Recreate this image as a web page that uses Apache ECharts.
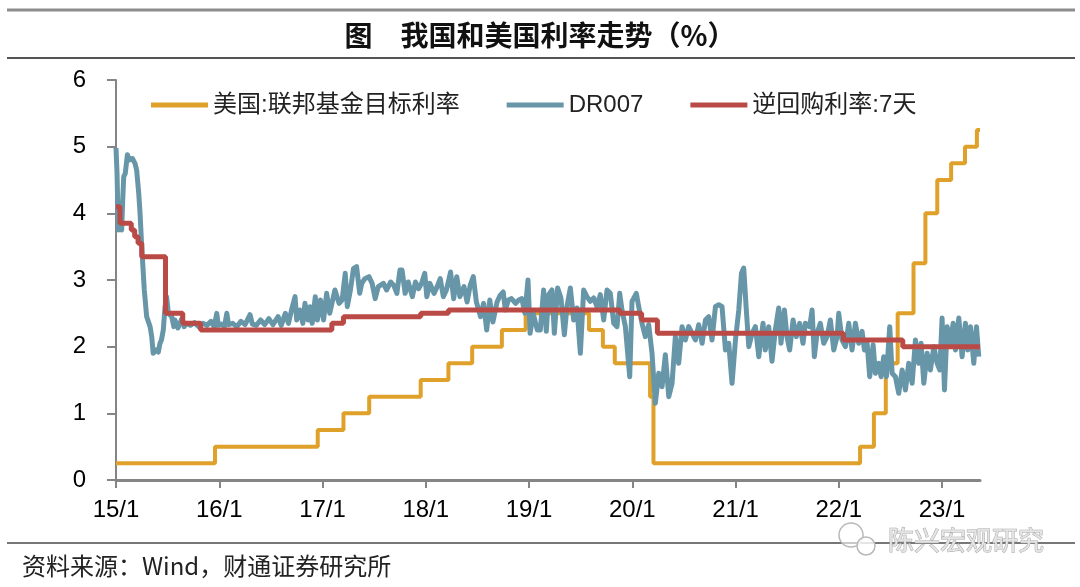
<!DOCTYPE html>
<html>
<head>
<meta charset="utf-8">
<script src="https://cdn.jsdelivr.net/npm/echarts@6/dist/echarts.min.js"></script>
<style>
html,body{margin:0;padding:0;background:#fff;}
#chart{width:1080px;height:587px;}
</style>
</head>
<body>
<div id="chart"></div>
<script>
// ---------- DATA ----------
const titleText = '图　我国和美国利率走势（%）';
const sourceText = '资料来源：Wind，财通证券研究所';
const watermarkText = '陈兴宏观研究';
const seriesNames = ['美国:联邦基金目标利率', 'DR007', '逆回购利率:7天'];
const yearTicks = [2015, 2016, 2017, 2018, 2019, 2020, 2021, 2022, 2023];
const endDate = '2023-05-15';

// US federal funds target rate (upper bound), change dates
const fedDates = ['2015-01-01','2015-12-17','2016-12-15','2017-03-16','2017-06-15','2017-12-14','2018-03-22','2018-06-14','2018-09-27','2018-12-20','2019-08-01','2019-09-19','2019-10-31','2020-03-04','2020-03-16','2022-03-17','2022-05-05','2022-06-16','2022-07-28','2022-09-22','2022-11-03','2022-12-15','2023-02-02','2023-03-23','2023-05-04','2023-05-15'];
const fedValues = [0.25,0.5,0.75,1.0,1.25,1.5,1.75,2.0,2.25,2.5,2.25,2.0,1.75,1.25,0.25,0.5,1.0,1.75,2.5,3.25,4.0,4.5,4.75,5.0,5.25,5.25];

// 7-day reverse repo rate, change dates
const repoDates = ['2015-01-01','2015-01-15','2015-02-24','2015-03-08','2015-03-20','2015-04-02','2015-06-25','2015-08-25','2015-10-27','2017-02-03','2017-03-16','2017-12-14','2018-03-22','2019-11-18','2020-02-03','2020-03-30','2022-01-17','2022-08-15','2023-05-15'];
const repoValues = [4.1,3.85,3.75,3.65,3.55,3.35,2.5,2.35,2.25,2.35,2.45,2.5,2.55,2.5,2.4,2.2,2.1,2.0,2.0];

// DR007 (time as decimal year)
const drYear = [
2015.000,2015.010,2015.022,2015.040,2015.055,2015.065,2015.075,2015.090,2015.110,2015.130,
2015.160,2015.184,2015.200,2015.220,2015.233,2015.249,2015.274,2015.297,2015.330,2015.346,
2015.360,2015.390,2015.410,2015.426,2015.440,2015.458,2015.475,2015.490,2015.507,2015.540,
2015.560,2015.570,2015.600,2015.637,2015.660,2015.680,2015.720,2015.760,2015.800,2015.840,
2015.880,2015.920,2015.950,2015.976,2015.990,2016.020,2016.050,2016.073,2016.090,2016.130,
2016.170,2016.210,2016.250,2016.298,2016.320,2016.360,2016.400,2016.440,2016.480,2016.520,
2016.570,2016.600,2016.640,2016.670,2016.700,2016.734,2016.750,2016.780,2016.810,2016.830,
2016.860,2016.880,2016.900,2016.930,2016.950,
2016.98,2017.01,2017.04,2017.07,2017.12,2017.16,2017.19,2017.22,2017.24,2017.27,
2017.30,2017.33,2017.36,2017.38,2017.41,2017.45,2017.48,2017.51,2017.54,2017.59,
2017.62,2017.66,2017.69,2017.72,2017.75,2017.77,2017.80,2017.83,2017.87,2017.90,
2017.93,2017.96,2017.99,2018.01,2018.04,2018.08,2018.11,2018.14,2018.17,2018.20,
2018.24,2018.27,2018.30,2018.33,2018.37,2018.40,2018.43,2018.46,2018.49,2018.53,
2018.56,2018.59,2018.62,2018.65,2018.69,2018.72,2018.75,2018.77,2018.80,2018.83,
2018.87,2018.90,2018.93,2018.96,2018.99,2019.01,2019.04,2019.08,
2019.109,2019.141,2019.167,2019.190,2019.222,2019.245,2019.277,2019.309,2019.342,2019.367,
2019.400,2019.432,2019.464,2019.497,2019.529,2019.561,2019.593,2019.626,2019.658,2019.690,
2019.723,2019.755,2019.787,2019.820,2019.852,2019.878,2019.900,2019.933,2019.975,2019.997,
2020.039,2020.062,2020.094,2020.126,2020.159,2020.191,2020.223,2020.256,2020.288,2020.320,
2020.353,2020.385,2020.417,2020.449,2020.482,2020.514,2020.546,2020.579,2020.611,2020.643,
2020.676,2020.708,2020.740,2020.772,2020.805,2020.837,2020.869,2020.902,2020.934,2020.966,
2020.999,2021.031,2021.057,2021.079,2021.102,2021.128,2021.160,2021.192,2021.225,
2021.240,2021.266,2021.288,2021.321,2021.353,2021.385,2021.418,2021.440,2021.473,2021.498,
2021.524,2021.557,2021.589,2021.621,2021.653,2021.676,2021.718,2021.741,2021.763,2021.789,
2021.821,2021.854,2021.886,2021.918,2021.951,2021.983,2021.999,2022.031,2022.064,2022.096,
2022.128,2022.161,2022.193,2022.225,2022.248,2022.274,2022.299,2022.332,2022.354,2022.387,
2022.409,2022.435,2022.461,2022.493,2022.516,2022.548,2022.580,2022.613,2022.645,2022.677,
2022.710,2022.742,2022.774,2022.797,2022.823,2022.855,2022.887,2022.920,2022.952,2022.978,
2023.000,2023.023,2023.049,2023.081,2023.107,2023.130,2023.162,2023.194,2023.226,2023.249,
2023.275,2023.307,2023.333,2023.355
];
const drValue = [
4.98,4.60,3.75,3.80,3.75,4.20,4.55,4.60,4.88,4.80,
4.82,4.75,4.65,4.30,4.00,3.50,2.85,2.45,2.30,2.15,
1.90,1.95,1.92,2.05,2.10,2.25,2.60,2.75,2.50,2.45,
2.30,2.40,2.28,2.42,2.30,2.35,2.32,2.36,2.30,2.35,
2.32,2.38,2.30,2.50,2.32,2.34,2.30,2.50,2.33,2.35,
2.30,2.38,2.33,2.48,2.34,2.32,2.40,2.33,2.42,2.33,
2.45,2.32,2.50,2.35,2.55,2.75,2.40,2.55,2.35,2.65,
2.40,2.60,2.35,2.75,2.40,
2.70,2.40,2.80,2.50,2.85,2.65,2.70,3.10,2.60,2.85,
3.17,3.20,2.80,2.95,3.02,3.05,2.95,2.72,2.90,2.95,
2.85,2.97,2.92,2.80,3.15,3.15,2.80,2.97,2.75,2.97,
2.87,2.95,3.10,2.75,2.95,2.80,2.90,3.02,2.75,2.85,
3.12,2.72,3.05,2.75,2.90,2.67,2.92,3.05,2.67,2.45,
2.65,2.25,2.70,2.37,2.67,2.77,2.82,2.55,2.70,2.72,
2.65,2.70,2.72,2.50,3.00,2.20,2.50,2.25,
2.25,2.85,2.23,2.78,2.85,2.20,2.88,2.73,2.18,2.60,
2.88,2.40,2.58,1.90,2.85,2.75,2.68,2.73,2.60,2.78,
2.40,2.85,2.80,2.35,2.30,2.80,2.55,2.30,1.55,2.68,
2.80,2.60,2.35,2.15,2.33,1.90,1.15,1.60,1.40,1.88,
1.25,1.45,2.15,1.75,2.30,2.10,2.30,2.20,2.10,2.33,
2.05,2.40,2.45,2.10,2.60,2.63,2.60,1.95,2.05,1.45,
2.10,2.55,3.10,3.18,2.60,2.00,2.20,2.30,1.85,
2.05,2.35,1.95,2.30,1.78,2.25,2.58,2.05,2.55,2.15,
1.95,2.40,2.15,2.35,2.05,2.35,2.30,2.55,1.85,2.20,
2.35,2.05,2.15,2.40,1.95,2.15,2.50,2.10,2.00,2.35,
1.95,2.35,2.05,2.23,1.95,2.05,1.55,2.03,1.60,1.75,
1.55,1.85,1.55,2.30,1.60,1.55,1.30,1.65,1.35,1.75,
1.45,2.10,1.75,2.05,1.45,1.90,1.65,2.00,1.75,1.65,
2.43,1.35,2.30,2.05,2.35,1.95,2.43,1.85,2.35,1.95,
2.30,1.75,2.30,1.85
];

// ---------- HELPERS ----------
function toYear(s) {
  const d = Date.parse(s + 'T00:00:00Z');
  const y = Number(s.slice(0, 4));
  const a = Date.UTC(y, 0, 1), b = Date.UTC(y + 1, 0, 1);
  return y + (d - a) / (b - a);
}
const fedData = fedDates.map((d, i) => [toYear(d), fedValues[i]]);
const repoData = repoDates.map((d, i) => [toYear(d), repoValues[i]]);
const drData = drYear.map((t, i) => [t, drValue[i]]);
const xMax = toYear(endDate);

const colors = ['#E0A12B', '#6896A9', '#BA4A46'];
const latin = 'Liberation Sans, Arial, Noto Sans CJK SC, sans-serif';

const chart = echarts.init(document.getElementById('chart'), null, {renderer: 'canvas'});
chart.setOption({
  animation: false,
  backgroundColor: '#fff',
  color: colors,
  grid: {left: 116, right: 100, top: 80, bottom: 107, containLabel: false},
  legend: {
    data: seriesNames,
    left: 146, top: 88,
    icon: 'rect', itemWidth: 57, itemHeight: 5, itemGap: 47,
    textStyle: {fontSize: 24, color: '#222', fontFamily: latin}
  },
  xAxis: {
    type: 'value', min: 2015, max: xMax, interval: 1,
    axisLine: {show: true, onZero: false, lineStyle: {color: '#858585', width: 3}},
    axisTick: {show: true, length: 8, lineStyle: {color: '#858585', width: 2}, customValues: yearTicks},
    axisLabel: {
      customValues: yearTicks, margin: 18, fontSize: 24, color: '#000', fontFamily: latin,
      formatter: v => (Math.round(v) % 100) + '/1'
    },
    splitLine: {show: false}
  },
  yAxis: {
    type: 'value', min: 0, max: 6, interval: 1,
    axisLine: {show: true, lineStyle: {color: '#858585', width: 2}},
    axisTick: {show: true, length: 9, lineStyle: {color: '#858585', width: 2}},
    axisLabel: {margin: 30, fontSize: 24, color: '#000', fontFamily: latin},
    splitLine: {show: false}
  },
  series: [
    {name: seriesNames[0], type: 'line', step: 'end', data: fedData, showSymbol: false,
     lineStyle: {width: 4, color: colors[0]}, z: 2},
    {name: seriesNames[1], type: 'line', data: drData, showSymbol: false,
     lineStyle: {width: 5, color: colors[1], join: 'round'}, z: 3},
    {name: seriesNames[2], type: 'line', step: 'end', data: repoData, showSymbol: false,
     lineStyle: {width: 5, color: colors[2]}, z: 4}
  ],
  graphic: [
    {type: 'line', shape: {x1: 7, y1: 10, x2: 1075, y2: 10}, style: {stroke: '#8c8c8c', lineWidth: 3}},
    {type: 'line', shape: {x1: 7, y1: 58, x2: 1075, y2: 58}, style: {stroke: '#555', lineWidth: 2}},
    {type: 'line', shape: {x1: 7, y1: 543, x2: 1075, y2: 543}, style: {stroke: '#777', lineWidth: 2}},
    {type: 'text', x: 540, y: 35, style: {text: titleText, fill: '#111', font: 'bold 28px "Noto Sans CJK SC", sans-serif', textAlign: 'center', textVerticalAlign: 'middle'}},
    {type: 'text', x: 22, y: 566, style: {text: sourceText, fill: '#222', font: '24px "Noto Sans CJK SC", sans-serif', textAlign: 'left', textVerticalAlign: 'middle'}},
    {type: 'circle', shape: {cx: 851, cy: 535, r: 12}, style: {fill: 'rgba(255,255,255,0.6)', stroke: '#b8b8b8', lineWidth: 1.5}, z: 10},
    {type: 'circle', shape: {cx: 866, cy: 546, r: 9}, style: {fill: 'rgba(255,255,255,0.8)', stroke: '#b8b8b8', lineWidth: 1.5}, z: 11},
    {type: 'text', x: 888, y: 540, z: 12, style: {text: watermarkText, fill: '#e4e4e4', stroke: '#a8a8a8', lineWidth: 1, font: '26px "Noto Sans CJK SC", sans-serif', textAlign: 'left', textVerticalAlign: 'middle'}}
  ]
});
</script>
</body>
</html>
